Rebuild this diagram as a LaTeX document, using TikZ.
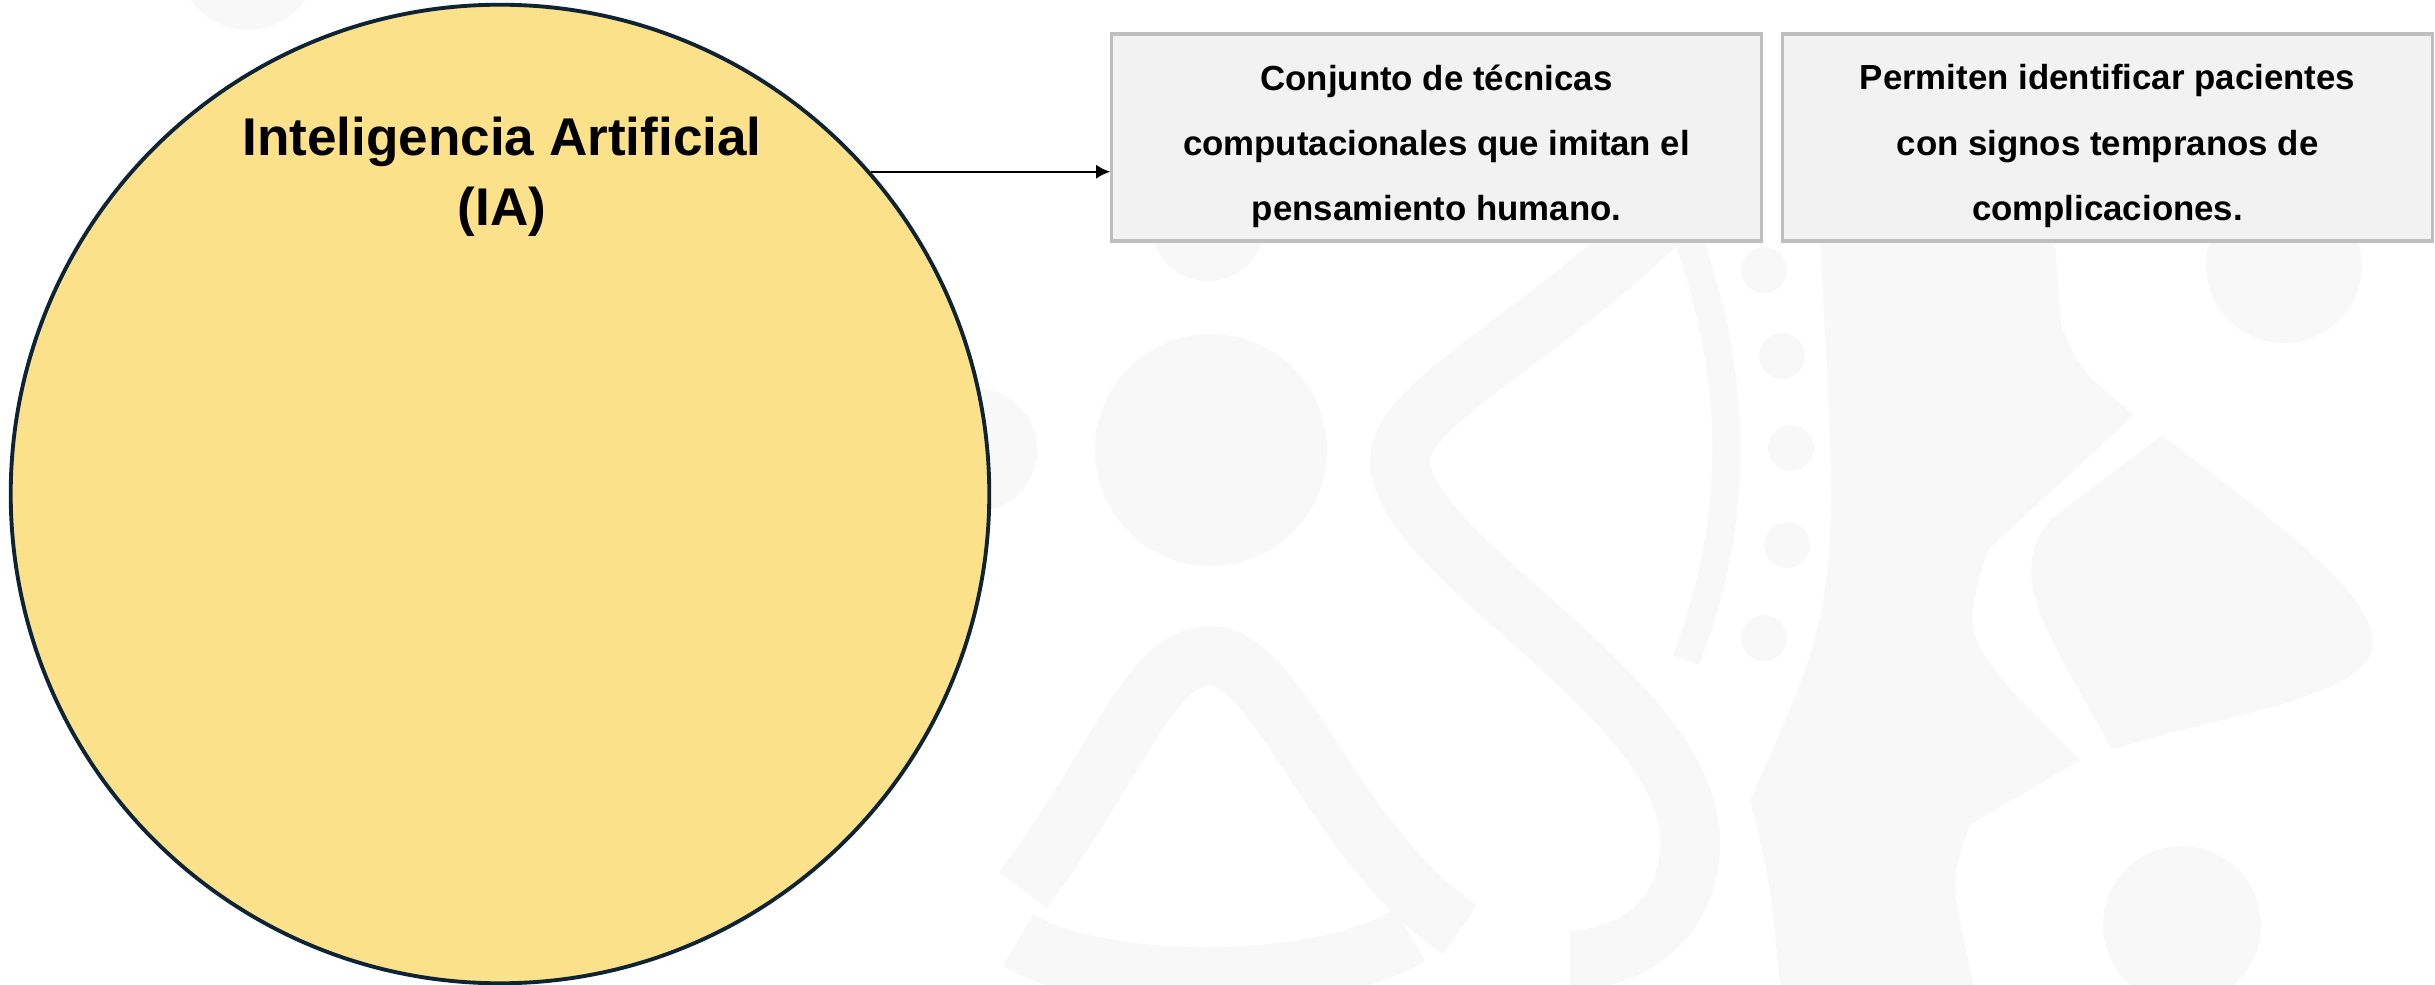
\documentclass[tikz,border=0pt]{standalone}
\usepackage{fontspec}
\setmainfont{Liberation Sans}
\usetikzlibrary{arrows.meta}
\definecolor{iafill}{RGB}{252,225,139}
\definecolor{iaedge}{RGB}{14,35,52}
\definecolor{boxfill}{RGB}{242,242,242}
\definecolor{boxedge}{RGB}{191,191,191}
\definecolor{marca}{RGB}{248,248,248}
\begin{document}
\begin{tikzpicture}[x=0.01cm,y=-0.01cm,
	defbox/.style={draw=boxedge,fill=boxfill,line width=0.9pt,minimum width=6.49cm,minimum height=2.07cm,inner sep=0pt},
	deftext/.style={align=center,inner sep=0pt,font=\fontsize{9.9}{18.5}\selectfont\bfseries},
	banda/.style={draw=marca,line width=17pt}]
		\useasboundingbox (0,0) rectangle (2435,985);
		% marca de agua
		\fill[marca] (248,-40) circle (0.7cm);
		\fill[marca] (975,450) circle (0.62cm);
		\fill[marca] (1211,450) circle (1.16cm);
		\fill[marca] (1208,224) circle (0.57cm);
		\fill[marca] (2284,265) circle (0.78cm);
		\fill[marca] (2182,925) circle (0.79cm);
		\foreach \px/\py in {1764/270,1782/356,1791/448,1787/545,1764/638}
			\fill[marca] (\px,\py) circle (0.23cm);
		\draw[banda] (1023,890) .. controls (1120,760) and (1150,656) .. (1210,656) .. controls (1280,656) and (1330,840) .. (1460,930);
		\draw[banda] (1018,940) .. controls (1100,990) and (1320,990) .. (1410,935);
		\draw[banda] (1690,190) .. controls (1560,330) and (1400,400) .. (1400,460) .. controls (1400,560) and (1700,700) .. (1690,850) .. controls (1685,930) and (1620,960) .. (1570,960);
		\draw[banda,line width=8pt] (1685,230) .. controls (1740,380) and (1740,520) .. (1686,660);
		\fill[marca] (1820,241) -- (2055,241) -- (2061,325) .. controls (2080,370) .. (2134,415) -- (1988,550) .. controls (1960,640) .. (2080,760) -- (1970,825) .. controls (1950,880) .. (1974,985) -- (1780,985) .. controls (1770,880) .. (1750,800) .. controls (1840,600) .. (1820,241) -- cycle;
		\fill[marca] (2162,435) .. controls (2300,540) and (2380,600) .. (2372,650) .. controls (2360,700) and (2200,720) .. (2112,750) .. controls (2060,650) and (2000,580) .. (2050,520) -- cycle;
		% diagrama
		\node[circle,draw=iaedge,fill=iafill,line width=1.1pt,minimum size=9.78cm,inner sep=0pt] (ia) at (500,494) {};
		\node[align=center,font=\fontsize{15.1}{19.9}\selectfont\bfseries] (iatitulo) at (502,177) {Inteligencia Artificial\\(IA)};
		\node[defbox] (tecnicas) at (1436.5,137.5) {};
		\node[deftext] (tecnicastxt) at (1436.5,146) {Conjunto de técnicas\\computacionales que imitan el\\pensamiento humano.};
		\node[defbox] (pacientes) at (2107.5,137.5) {};
		\node[deftext] (pacientestxt) at (2107.5,146) {Permiten identificar pacientes\\con signos tempranos de\\complicaciones.};
		\draw[-{Latex[length=4pt,width=4pt]},line width=0.6pt] (ia.41.2) -- (ia.41.2 -| tecnicas.west);
	\end{tikzpicture}
\end{document}
